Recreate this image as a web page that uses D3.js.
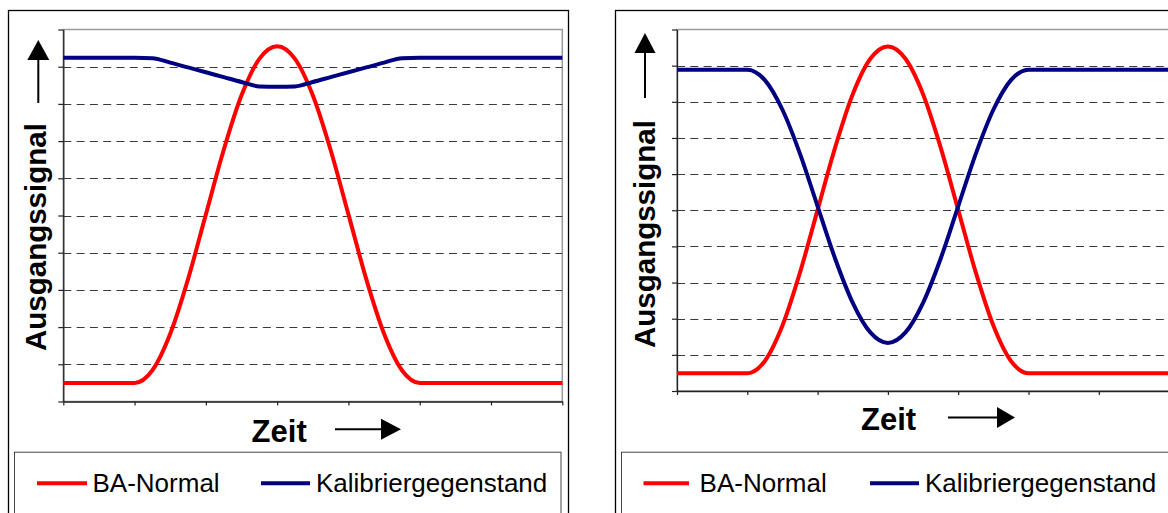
<!DOCTYPE html>
<html>
<head>
<meta charset="utf-8">
<script src="https://cdn.jsdelivr.net/npm/d3@7"></script>
<style>
  html, body { margin: 0; padding: 0; background: #fff; }
  svg { display: block; }
  text { font-family: "Liberation Sans", Arial, sans-serif; }
</style>
</head>
<body>
<svg id="chart" width="1168" height="513"></svg>
<script>
// ---------- DATA ----------
const timeSteps = [0,0.25,0.5,0.75,1,1.25,1.5,1.75,2,2.25,2.5,2.75,3,3.25,3.5,3.75,4,4.25,4.5,4.75,5,5.25,5.5,5.75,6,6.25,6.5,6.75,7];
const leftRed  = [0.5,0.5,0.5,0.5,0.5,0.84,1.82,3.29,5.03,6.76,8.23,9.21,9.55,9.21,8.23,6.76,5.03,3.29,1.82,0.84,0.5,0.5,0.5,0.5,0.5,0.5,0.5,0.5,0.5];
const leftBlue = [9.24,9.24,9.24,9.24,9.24,9.23,9.11,8.98,8.85,8.72,8.59,8.47,8.46,8.47,8.59,8.72,8.85,8.98,9.11,9.23,9.24,9.24,9.24,9.24,9.24,9.24,9.24,9.24,9.24];
const rightRed  = [0.49,0.49,0.49,0.49,0.49,0.83,1.81,3.28,5.01,6.74,8.21,9.19,9.53,9.19,8.21,6.74,5.01,3.28,1.81,0.83,0.49,0.49,0.49,0.49,0.49,0.49,0.49,0.49,0.49];
const rightBlue = [8.89,8.89,8.89,8.89,8.89,8.60,7.78,6.56,5.11,3.66,2.44,1.62,1.33,1.62,2.44,3.66,5.11,6.56,7.78,8.60,8.89,8.89,8.89,8.89,8.89,8.89,8.89,8.89,8.89];
const seriesNames = ["BA-Normal", "Kalibriergegenstand"];
const seriesColors = ["#ff0000", "#000080"];
const xTickValues = [0,1,2,3,4,5,6,7];
const yTickValues = [0,1,2,3,4,5,6,7,8,9,10];
const gridValues = [1,2,3,4,5,6,7,8,9];
const xTitle = "Zeit";
const yTitle = "Ausgangssignal";

// ---------- LAYOUT ----------
const panels = [
  {
    series: [leftRed, leftBlue],
    frame: {x: 8, y: 10, w: 560, h: 530},
    plot: {x0: 63.3, x1: 562.3, y0: 29.5, y1: 401.5},
    legend: {x: 14, y: 451.7, w: 546.5, h: 90, lines: [[37, 87], [261, 310]], texts: [92.5, 316], ly: 483.3, ty: 491.5},
    xt: {x: 251.6, y: 441.7, ax0: 335, ax1: 381, tip: 401, ay: 429.3, ah: 10.5},
    yt: {x: 46, y: 351, ax: 38.3, tip: 40, base: 60, end: 103, ah: 11}
  },
  {
    series: [rightRed, rightBlue],
    frame: {x: 615, y: 10, w: 600, h: 530},
    plot: {x0: 677, x1: 1169.1, y0: 29.5, y1: 391},
    legend: {x: 621, y: 451.7, w: 600, h: 90, lines: [[643.5, 689], [870, 919]], texts: [699.6, 925], ly: 483.3, ty: 491.5},
    xt: {x: 861, y: 430, ax0: 948, ax1: 997, tip: 1015, ay: 417.5, ah: 10.5},
    yt: {x: 655, y: 348, ax: 645, tip: 33, base: 53, end: 98, ah: 10.5}
  }
];

const svg = d3.select("#chart");
svg.append("rect").attr("width", 1168).attr("height", 513).attr("fill", "#fff");

panels.forEach(p => {
  const g = svg.append("g");
  // outer frame
  g.append("rect")
    .attr("x", p.frame.x + 0.5).attr("y", p.frame.y + 0.5)
    .attr("width", p.frame.w).attr("height", p.frame.h)
    .attr("fill", "#fff").attr("stroke", "#000").attr("stroke-width", 1.3);

  const x = d3.scaleLinear().domain([0, 7]).range([p.plot.x0, p.plot.x1]);
  const y = d3.scaleLinear().domain([0, 10]).range([p.plot.y1, p.plot.y0]);

  // plot area border (gray)
  g.append("rect")
    .attr("x", p.plot.x0).attr("y", p.plot.y0)
    .attr("width", p.plot.x1 - p.plot.x0).attr("height", p.plot.y1 - p.plot.y0)
    .attr("fill", "#fff").attr("stroke", "#9a9a9a").attr("stroke-width", 1.5);

  // gridlines
  g.append("g").selectAll("line").data(gridValues).join("line")
    .attr("x1", p.plot.x0).attr("x2", p.plot.x1)
    .attr("y1", d => Math.round(y(d)) + 0.5).attr("y2", d => Math.round(y(d)) + 0.5)
    .attr("stroke", "#3a3a3a").attr("stroke-width", 1)
    .attr("stroke-dasharray", "8,5.3");

  // axes
  const ay = g.append("g").attr("transform", `translate(${p.plot.x0},0)`)
    .call(d3.axisLeft(y).tickValues(yTickValues).tickSize(5).tickSizeOuter(0).tickFormat(""));
  const ax = g.append("g").attr("transform", `translate(0,${p.plot.y1})`)
    .call(d3.axisBottom(x).tickValues(xTickValues).tickSize(4).tickSizeOuter(0).tickFormat(""));
  [ay, ax].forEach(a => {
    a.selectAll("path.domain").attr("stroke", "#222").attr("stroke-width", 1.3);
    a.selectAll(".tick line").attr("stroke", "#222").attr("stroke-width", 1.2);
  });

  // series lines
  const line = d3.line().x((d, i) => x(timeSteps[i])).y(d => y(d)).curve(d3.curveMonotoneX);
  const clipId = "clip" + p.frame.x;
  g.append("clipPath").attr("id", clipId).append("rect")
    .attr("x", p.plot.x0 - 3).attr("y", p.plot.y0 - 5)
    .attr("width", p.plot.x1 - p.plot.x0 + 6).attr("height", p.plot.y1 - p.plot.y0 + 10);
  [0, 1].forEach(si => {
    g.append("path").datum(p.series[si])
      .attr("d", line)
      .attr("fill", "none")
      .attr("stroke", seriesColors[si])
      .attr("stroke-width", 4)
      .attr("stroke-linejoin", "round")
      .attr("clip-path", `url(#${clipId})`);
  });

  // Y title + arrow
  g.append("text")
    .attr("transform", `translate(${p.yt.x},${p.yt.y}) rotate(-90)`)
    .attr("font-size", 29.5).attr("font-weight", "bold").attr("fill", "#000")
    .text(yTitle);
  g.append("line")
    .attr("x1", p.yt.ax).attr("x2", p.yt.ax).attr("y1", p.yt.base).attr("y2", p.yt.end)
    .attr("stroke", "#000").attr("stroke-width", 2);
  g.append("path")
    .attr("d", `M${p.yt.ax},${p.yt.tip} L${p.yt.ax - p.yt.ah},${p.yt.base} L${p.yt.ax + p.yt.ah},${p.yt.base} Z`)
    .attr("fill", "#000");

  // X title + arrow
  g.append("text")
    .attr("x", p.xt.x).attr("y", p.xt.y)
    .attr("font-size", 31).attr("font-weight", "bold").attr("fill", "#000")
    .text(xTitle);
  g.append("line")
    .attr("x1", p.xt.ax0).attr("x2", p.xt.ax1).attr("y1", p.xt.ay).attr("y2", p.xt.ay)
    .attr("stroke", "#000").attr("stroke-width", 2);
  g.append("path")
    .attr("d", `M${p.xt.tip},${p.xt.ay} L${p.xt.ax1},${p.xt.ay - p.xt.ah} L${p.xt.ax1},${p.xt.ay + p.xt.ah} Z`)
    .attr("fill", "#000");

  // legend
  const lg = g.append("g");
  lg.append("rect")
    .attr("x", p.legend.x + 0.5).attr("y", p.legend.y + 0.5)
    .attr("width", p.legend.w).attr("height", p.legend.h)
    .attr("fill", "#fff").attr("stroke", "#444").attr("stroke-width", 1);
  seriesNames.forEach((name, i) => {
    lg.append("line")
      .attr("x1", p.legend.lines[i][0]).attr("x2", p.legend.lines[i][1])
      .attr("y1", p.legend.ly).attr("y2", p.legend.ly)
      .attr("stroke", seriesColors[i]).attr("stroke-width", 4);
    lg.append("text")
      .attr("x", p.legend.texts[i]).attr("y", p.legend.ty)
      .attr("font-size", 26).attr("fill", "#000")
      .text(name);
  });
});
</script>
</body>
</html>
